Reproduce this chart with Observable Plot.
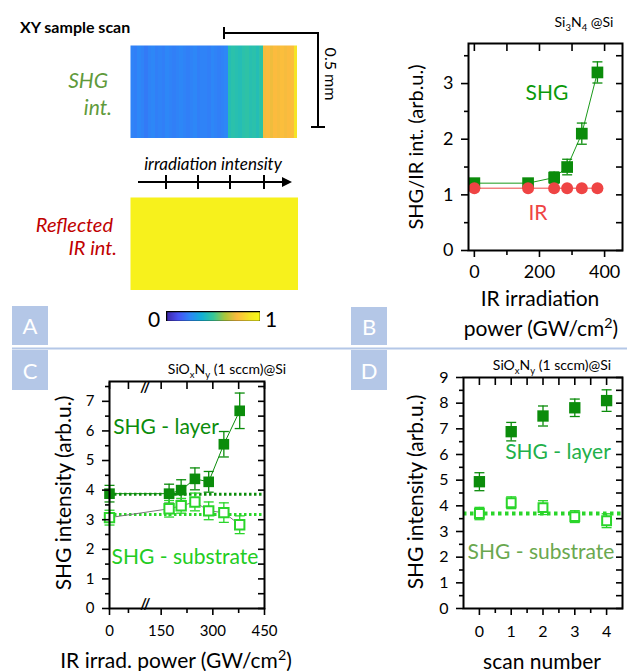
<!DOCTYPE html>
<html><head><meta charset="utf-8">
<script src="https://cdn.jsdelivr.net/npm/d3@7"></script>
<script src="https://cdn.jsdelivr.net/npm/@observablehq/plot@0.6"></script>
<style>
body{margin:0;background:#fff;}
#root{position:relative;width:627px;height:671px;overflow:hidden;font-family:Lato,"Open Sans",sans-serif;color:#000;}
.abs{position:absolute;white-space:nowrap;line-height:1;}
.abs sub,.abs sup{font-size:0.68em;line-height:0;}
.plot{position:absolute;}
.box{position:absolute;background:#b4c7e7;color:#fff;font-size:22px;display:flex;align-items:center;justify-content:center;}
</style></head><body><div id="root"></div>
<script>
// ---------- data ----------
// Panel A: XY sample scan maps (normalised 0..1), column by column along irradiation intensity
const shgMapColumns = [0.24,0.23,0.25,0.24,0.22,0.24,0.25,0.23,0.24,0.23,0.25,0.24,0.23,0.24,0.25,0.24,0.23,0.24,0.25,0.23,0.24,0.24,0.23,0.25,0.24,0.23,0.24,0.25,
                       0.44,0.46,0.45,0.44,0.46,0.47,0.45,0.46,0.44,0.47,
                       0.74,0.75,0.73,0.75,0.74,0.76,0.74,0.75,0.76,
                       0.88];
const irMapColumns = [0.95,0.95,0.95,0.95,0.95,0.95,0.95,0.95,0.95,0.95,0.95,0.95];
const parulaStops = ["#3e26a8","#4852f4","#2d87f7","#11b1d6","#37c897","#abc739","#fcbb3e","#f5e328","#f9fb14"];

// Panel B: Si3N4@Si
const bPower = [0, 165, 245, 285, 330, 378];
const bShg = [1.21, 1.21, 1.31, 1.5, 2.1, 3.2];
const bShgErr = [0.05, 0.05, 0.1, 0.14, 0.19, 0.19];
const bIr = [1.12, 1.12, 1.12, 1.12, 1.12, 1.12];
const bXTicks = [0, 200, 400], bXMinor = [100, 300];
const bYTicks = [0, 1, 2, 3], bYMinor = [0.5, 1.5, 2.5, 3.5];

// Panel C: SiOxNy (1 sccm)@Si vs IR irradiation power
const cPower = [0, 173, 208, 248, 288, 332, 378];
const cLayer = [3.88, 3.88, 4.0, 4.38, 4.28, 5.55, 6.68];
const cLayerErr = [0.28, 0.32, 0.35, 0.37, 0.35, 0.43, 0.6];
const cSubstrate = [3.07, 3.37, 3.47, 3.6, 3.3, 3.24, 2.83];
const cSubstrateErr = [0.25, 0.28, 0.25, 0.3, 0.3, 0.33, 0.3];
const cLayerRef = [3.86], cSubstrateRef = [3.18];
const cXTicks = [0, 150, 300, 450], cXMinor = [55, 225, 375];
const cYTicks = [0, 1, 2, 3, 4, 5, 6, 7], cYMinor = [0.5, 1.5, 2.5, 3.5, 4.5, 5.5, 6.5, 7.5];
const cBreak = [104];

// Panel D: SiOxNy (1 sccm)@Si vs scan number
const dScan = [0, 1, 2, 3, 4];
const dLayer = [4.94, 6.89, 7.5, 7.82, 8.1];
const dLayerErr = [0.35, 0.36, 0.39, 0.34, 0.42];
const dSubstrate = [3.7, 4.12, 3.93, 3.58, 3.42];
const dSubstrateErr = [0.24, 0.23, 0.27, 0.23, 0.27];
const dSubstrateRef = [3.7];
const dXTicks = [0, 1, 2, 3, 4], dXMinor = [0.5, 1.5, 2.5, 3.5];
const dYTicks = [0, 1, 2, 3, 4, 5, 6, 7, 8, 9], dYMinor = [0.5, 1.5, 2.5, 3.5, 4.5, 5.5, 6.5, 7.5, 8.5];

// ---------- styling ----------
const FONT = 'Lato, "Open Sans", sans-serif';
const darkGreen = "#0b8c0b", brightGreen = "#2ad52a", irRed = "#ef4444";
const parula = d3.piecewise(d3.interpolateRgb, parulaStops);
const root = document.getElementById("root");

function place(node, left, top) {
  node.classList.add("plot");
  node.style.left = left + "px"; node.style.top = top + "px";
  root.appendChild(node);
}
function text(html, x, y, {size = 16, color = "#000", anchor = "middle", rotate = 0, italic = false, bold = false} = {}) {
  const d = document.createElement("div");
  d.className = "abs";
  d.innerHTML = html;
  d.style.fontSize = size + "px";
  d.style.color = color;
  if (italic) d.style.fontStyle = "italic";
  if (bold) d.style.fontWeight = "bold";
  d.style.left = x + "px"; d.style.top = y + "px";
  const tx = anchor === "middle" ? "-50%" : anchor === "end" ? "-100%" : "0";
  d.style.transform = `translate(${tx},-50%)`;
  if (rotate) { d.style.transformOrigin = "center"; d.style.transform = `translate(-50%,-50%) rotate(${rotate}deg)`; }
  root.appendChild(d);
}
function box(letter, x, y, w, h) {
  const d = document.createElement("div");
  d.className = "box"; d.textContent = letter;
  Object.assign(d.style, {left: x + "px", top: y + "px", width: w + "px", height: h + "px"});
  root.appendChild(d);
}

const capSymbol = {draw(ctx, size) { const w = Math.sqrt(size / Math.PI); ctx.moveTo(-w, 0); ctx.lineTo(w, 0); }};
function errorMarks(xs, ys, es, color, cap) {
  const rows = xs.map((x, i) => ({x, lo: ys[i] - es[i], hi: ys[i] + es[i]}));
  return [
    Plot.ruleX(rows, {x: "x", y1: "lo", y2: "hi", stroke: color, strokeWidth: 1.3}),
    Plot.dot(rows, {x: "x", y: "lo", symbol: capSymbol, r: cap, fill: "none", stroke: color, strokeWidth: 1.3}),
    Plot.dot(rows, {x: "x", y: "hi", symbol: capSymbol, r: cap, fill: "none", stroke: color, strokeWidth: 1.3})
  ];
}
const pts = (xs, ys) => xs.map((x, i) => ({x, y: ys[i]}));

function framedPanel(o) {
  const ax = {label: null, fontSize: o.fontSize, strokeWidth: 1.6};
  const none = () => "";
  const fmt = d => String(d);
  return Plot.plot({
    width: o.width, height: o.height,
    marginLeft: o.ml, marginRight: o.mr, marginTop: o.mt, marginBottom: o.mb,
    x: {domain: o.xDomain}, y: {domain: o.yDomain},
    style: {fontFamily: FONT, fontSize: o.fontSize + "px", color: "#000", background: "transparent", overflow: "visible"},
    marks: [
      ...o.marks,
      Plot.axisY(o.yMajor, {anchor: "left", tickSize: 7, tickPadding: o.yPad, tickFormat: fmt, ...ax}),
      Plot.axisY(o.yMinor, {anchor: "left", tickSize: 4, tickFormat: none, ...ax}),
      Plot.axisY([...o.yMajor, ...o.yMinor], {anchor: "right", tickSize: 7, dx: -7, tickFormat: none, ...ax}),
      Plot.axisX(o.xMajor, {anchor: "bottom", tickSize: 7, tickPadding: o.xPad, tickFormat: fmt, ...ax}),
      Plot.axisX(o.xMinor, {anchor: "bottom", tickSize: 5, tickFormat: none, ...ax}),
      Plot.axisX([...o.xMajor, ...o.xMinor], {anchor: "top", tickSize: 7, dy: 7, tickFormat: none, ...ax}),
      ...(o.after || []),
      Plot.frame({strokeWidth: 2})
    ]
  });
}

// ---------- Panel A ----------
function mapPlot(values, w, h) {
  return Plot.plot({
    width: w, height: h, margin: 0,
    x: {domain: [0, values.length], axis: null}, y: {domain: [0, 1], axis: null},
    color: {type: "linear", domain: [0, 1], interpolate: parula},
    marks: [Plot.raster(values, {width: values.length, height: 1, x1: 0, x2: values.length, y1: 0, y2: 1, fill: d => d, imageRendering: "pixelated"})]
  });
}
place(mapPlot(shgMapColumns, 167, 93), 130, 45);
place(mapPlot(irMapColumns, 168, 93), 130, 197);
const cbar = Plot.plot({
  width: 94, height: 10, margin: 0,
  x: {domain: [0, 1], axis: null}, y: {domain: [0, 1], axis: null},
  color: {type: "linear", domain: [0, 1], interpolate: parula},
  marks: [Plot.raster({fill: (x, y) => x, x1: 0, x2: 1, y1: 0, y2: 1, pixelSize: 1}), Plot.frame({stroke: "#000", strokeWidth: 1.5})]
});
place(cbar, 166, 311);

// annotations (scale bar, arrow, divider)
const deco = document.createElementNS("http://www.w3.org/2000/svg", "svg");
deco.setAttribute("width", 627); deco.setAttribute("height", 671);
deco.style.position = "absolute"; deco.style.left = "0"; deco.style.top = "0"; deco.style.pointerEvents = "none";
deco.innerHTML = `
  <g stroke="#000" stroke-width="2" fill="none">
    <path d="M224,33H318V127"/>
    <path d="M224,27V39"/>
    <path d="M311,127H325"/>
    <path d="M138,182H284"/>
    <path d="M166,175V189M198,175V189M230,175V189M264,175V189"/>
  </g>
  <path d="M292,182L282,177L282,187Z" fill="#000"/>
  <path d="M12,348.5H627" stroke="#b4c7e7" stroke-width="2"/>`;
root.appendChild(deco);

text("XY sample scan", 20, 27, {size: 16, bold: true, anchor: "start"});
text("SHG", 108, 79, {size: 21, italic: true, color: "#5f9a3b", anchor: "end"});
text("int.", 112, 106, {size: 21, italic: true, color: "#5f9a3b", anchor: "end"});
text("Reflected", 113, 224, {size: 20, italic: true, color: "#c00000", anchor: "end"});
text("IR int.", 117, 247, {size: 20, italic: true, color: "#c00000", anchor: "end"});
text("irradiation intensity", 213, 163, {size: 17, italic: true});
text("0.5 mm", 331, 74, {size: 16, rotate: 90});
text("0", 154, 318, {size: 21});
text("1", 271, 318, {size: 21});

box("A", 12, 306, 36, 39);
box("B", 351, 307, 36, 38);
box("C", 12, 350, 36, 40);
box("D", 351, 350, 36, 40);

// ---------- Panel B ----------
const bPlot = framedPanel({
  width: 247, height: 340, ml: 88, mr: 5, mt: 43, mb: 90,
  xDomain: [-18, 455], yDomain: [0, 3.72], fontSize: 18, yPad: 8, xPad: 8,
  xMajor: bXTicks, xMinor: bXMinor, yMajor: bYTicks, yMinor: bYMinor,
  marks: [
    Plot.line(pts(bPower, bShg), {x: "x", y: "y", stroke: "#1a9a1a", strokeWidth: 1}),
    ...errorMarks(bPower, bShg, bShgErr, darkGreen, 5),
    Plot.dot(pts(bPower, bShg), {x: "x", y: "y", symbol: "square", r: 6.6, fill: darkGreen}),
    Plot.line(pts(bPower, bIr), {x: "x", y: "y", stroke: irRed, strokeWidth: 1}),
    Plot.dot(pts(bPower, bIr), {x: "x", y: "y", r: 6, fill: irRed})
  ]
});
place(bPlot, 380, 0);
text("Si<sub>3</sub>N<sub>4</sub> @Si", 584, 22, {size: 14});
text("SHG", 547, 91, {size: 21, color: "#0a9a0a"});
text("IR", 538, 211, {size: 21, color: irRed});
text("SHG/IR int. (arb.u.)", 415, 147, {size: 20, rotate: -90});
text("IR irradiation", 540, 297, {size: 21});
text("power (GW/cm<sup>2</sup>)", 541, 327, {size: 21});

// ---------- Panel C ----------
const cPlot = framedPanel({
  width: 290, height: 321, ml: 109, mr: 26, mt: 31, mb: 63,
  xDomain: [0, 450], yDomain: [0, 7.67], fontSize: 15, yPad: 8, xPad: 10,
  xMajor: cXTicks, xMinor: cXMinor, yMajor: cYTicks, yMinor: cYMinor,
  marks: [
    Plot.ruleY(cLayerRef, {stroke: darkGreen, strokeWidth: 3, strokeDasharray: "2.5 2.5"}),
    Plot.ruleY(cSubstrateRef, {stroke: brightGreen, strokeWidth: 3, strokeDasharray: "2.5 2.5"}),
    Plot.line(pts(cPower, cLayer), {x: "x", y: "y", stroke: darkGreen, strokeWidth: 1}),
    Plot.line(pts(cPower, cSubstrate), {x: "x", y: "y", stroke: "#777", strokeWidth: 1}),
    ...errorMarks(cPower, cLayer, cLayerErr, darkGreen, 5),
    ...errorMarks(cPower, cSubstrate, cSubstrateErr, brightGreen, 5),
    Plot.dot(pts(cPower, cLayer), {x: "x", y: "y", symbol: "square", r: 6, fill: darkGreen}),
    Plot.dot(pts(cPower, cSubstrate), {x: "x", y: "y", symbol: "square", r: 5.3, fill: "#fff", stroke: brightGreen, strokeWidth: 2})
  ],
  after: [
    Plot.text(cBreak, {x: d => d, frameAnchor: "top", text: () => "//", fontSize: 15, fontWeight: "bold", fill: "#000", stroke: "#fff", strokeWidth: 2, paintOrder: "stroke"}),
    Plot.text(cBreak, {x: d => d, frameAnchor: "bottom", text: () => "//", fontSize: 15, fontWeight: "bold", fill: "#000", stroke: "#fff", strokeWidth: 2, paintOrder: "stroke"})
  ]
});
place(cPlot, 0, 350);
text("SiO<sub>x</sub>N<sub>y</sub> (1 sccm)@Si", 227, 369, {size: 14});
text("SHG - layer", 166, 425, {size: 21, color: darkGreen});
text("SHG - substrate", 185, 555, {size: 21, color: "#22cc22"});
text("SHG intensity (arb.u.)", 62, 493, {size: 21, rotate: -90});
text("IR irrad. power (GW/cm<sup>2</sup>)", 176, 659, {size: 21});

// ---------- Panel D ----------
const dPlot = framedPanel({
  width: 247, height: 321, ml: 83, mr: 5, mt: 27, mb: 63,
  xDomain: [-0.5, 4.5], yDomain: [0, 9], fontSize: 16, yPad: 8, xPad: 10,
  xMajor: dXTicks, xMinor: dXMinor, yMajor: dYTicks, yMinor: dYMinor,
  marks: [
    Plot.ruleY(dSubstrateRef, {stroke: brightGreen, strokeWidth: 4, strokeDasharray: "3.5 3.5"}),
    ...errorMarks(dScan, dLayer, dLayerErr, darkGreen, 5),
    ...errorMarks(dScan, dSubstrate, dSubstrateErr, brightGreen, 5),
    Plot.dot(pts(dScan, dLayer), {x: "x", y: "y", symbol: "square", r: 6.4, fill: darkGreen}),
    Plot.dot(pts(dScan, dSubstrate), {x: "x", y: "y", symbol: "square", r: 5, fill: "#fff", stroke: brightGreen, strokeWidth: 2})
  ]
});
place(dPlot, 380, 350);
text("SiO<sub>x</sub>N<sub>y</sub> (1 sccm)@Si", 552, 365, {size: 14});
text("SHG - layer", 558, 450, {size: 21, color: "#22b04a"});
text("SHG - substrate", 541, 550, {size: 21, color: "#6aa84f"});
text("SHG intensity (arb.u.)", 414, 492, {size: 21, rotate: -90});
text("scan number", 542, 660, {size: 21});
</script></body></html>
